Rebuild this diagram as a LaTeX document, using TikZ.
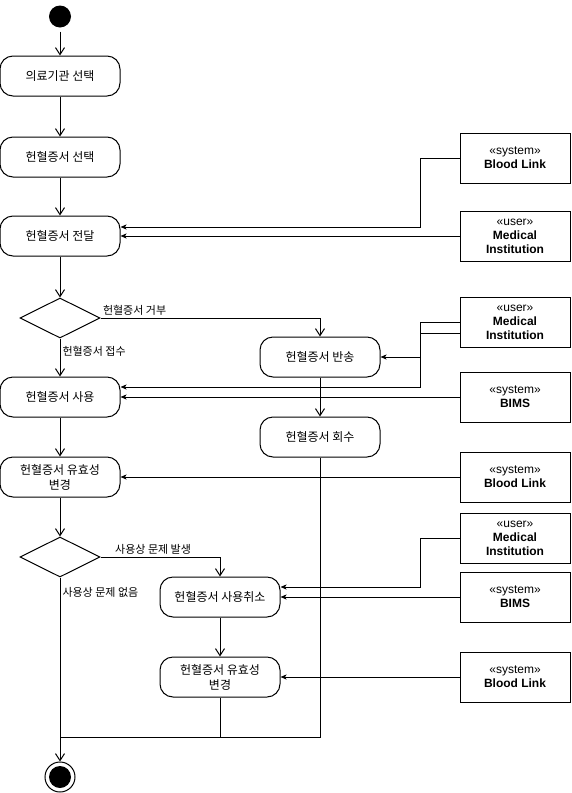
\documentclass[tikz,border=0pt]{standalone}
\usepackage{fontspec}
\setmainfont{Liberation Sans}
\newfontfamily\kr{Noto Sans CJK KR}
\usetikzlibrary{arrows.meta, shapes.geometric, positioning, calc}

\tikzset{
  activity/.style={shape=rectangle, draw=black, line width=1pt, rounded corners=13pt,
    minimum width=120pt, minimum height=40pt, inner sep=0pt, align=center,
    font=\kr\fontsize{12}{15}\selectfont},
  decision/.style={shape=diamond, draw=black, line width=1pt, minimum width=80pt,
    minimum height=40pt, inner sep=0pt},
  objnode/.style={shape=rectangle, draw=black, line width=1pt, minimum width=110pt,
    minimum height=50pt, inner sep=0pt, align=center, font=\fontsize{12}{14}\selectfont},
  flow/.style={draw=black, line width=1pt, -{Straight Barb[length=7pt, width=9pt]}},
  objflow/.style={draw=black, line width=1pt, -{Stealth[length=6pt, width=5pt, inset=1.5pt]}},
  guard/.style={font=\kr\fontsize{11}{13}\selectfont, inner sep=2pt},
}

\begin{document}
\begin{tikzpicture}[x=1pt, y=-1pt]
    \useasboundingbox (0,0) rectangle (571,793);
    \node[shape=circle, fill=black, minimum size=22pt, inner sep=0pt] (start) at (60,16.5) {};
    \node[activity] (hospital) at ( 60, 76) {의료기관 선택};
    \node[activity] (select)   at ( 60,157) {헌혈증서 선택};
    \node[activity] (deliver)  at ( 60,236) {헌혈증서 전달};
    \node[decision] (accept)   at ( 60,318) {};
    \node[activity] (return)   at (320,357) {헌혈증서 반송};
    \node[activity] (use)      at ( 60,397) {헌혈증서 사용};
    \node[activity] (collect)  at (320,437) {헌혈증서 회수};
    \node[activity] (valid)    at ( 60,477) {헌혈증서 유효성\\변경};
    \node[decision] (problem)  at ( 60,557) {};
    \node[activity] (cancel)   at (220,597) {헌혈증서 사용취소};
    \node[activity] (revalid)  at (220,677) {헌혈증서 유효성\\변경};
    \node[shape=circle, draw=black, line width=1pt, minimum size=30pt, inner sep=0pt] (stop) at (60,777) {};
    \fill[black] (stop.center) circle[radius=11pt];
    \coordinate (merge) at (60,737);

    \node[objnode] (link1) at (515,158) {«system»\\\textbf{Blood Link}};
    \node[objnode] (med1)  at (515,236) {«user»\\\textbf{Medical}\\\textbf{Institution}};
    \node[objnode] (med2)  at (515,322) {«user»\\\textbf{Medical}\\\textbf{Institution}};
    \node[objnode] (bims1) at (515,397) {«system»\\\textbf{BIMS}};
    \node[objnode] (link2) at (515,477) {«system»\\\textbf{Blood Link}};
    \node[objnode] (med3)  at (515,538) {«user»\\\textbf{Medical}\\\textbf{Institution}};
    \node[objnode] (bims2) at (515,597) {«system»\\\textbf{BIMS}};
    \node[objnode] (link3) at (515,677) {«system»\\\textbf{Blood Link}};

    \path[flow, shorten <=4pt] (start) edge (hospital);
    \path[flow] (hospital) edge (select);
    \path[flow] (select)   edge (deliver);
    \path[flow] (deliver)  edge (accept);
    \draw[flow] (accept.east) -| node[pos=0, above right, guard] {헌혈증서 거부} (return.north);
    \draw[flow] (accept.south) -- node[pos=0.33, right, guard] {헌혈증서 접수} (use.north);
    \path[flow] (return)   edge (collect);
    \path[flow] (use)      edge (valid);
    \path[flow] (valid)    edge (problem);
    \draw[flow] (problem.east) -| node[pos=0.22, above, guard] {사용상 문제 발생} (cancel.north);
    \path[flow] (cancel)   edge (revalid);
    \draw[line width=1pt] (collect.south) |- (merge);
    \draw[line width=1pt] (revalid.south) -- (revalid.south |- merge);
    \draw[flow] (problem.south) -- node[pos=0.08, right, guard] {사용상 문제 없음} (stop.north);

    \draw[objflow] (link1.west) -- ++(-39,0) |- ([yshift=9pt]deliver.east);
    \path[objflow] (med1) edge (deliver);
    \draw[objflow] (med2.west) -- ++(-39,0) |- (return.east);
    \draw[objflow] ([yshift=-11pt]med2.west) -- ++(-39,0) |- ([yshift=10pt]use.east);
    \path[objflow] (bims1) edge (use);
    \path[objflow] (link2) edge (valid);
    \draw[objflow] (med3.west) -- ++(-39,0) |- ([yshift=10pt]cancel.east);
    \path[objflow] (bims2) edge (cancel);
    \path[objflow] (link3) edge (revalid);
\end{tikzpicture}
\end{document}
